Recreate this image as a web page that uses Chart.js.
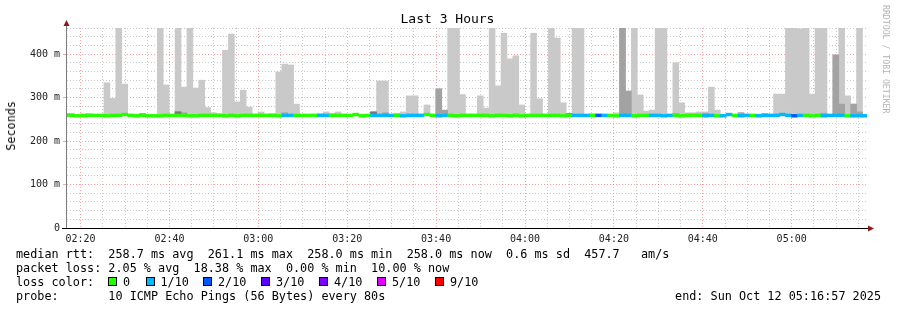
<!DOCTYPE html>
<html>
<head>
<meta charset="utf-8">
<script src="https://cdn.jsdelivr.net/npm/chart.js@4.4.0/dist/chart.umd.min.js"></script>
<style>
  body { margin: 0; background: #fff; }
  #wrap { position: relative; width: 897px; height: 310px; overflow: hidden;
          font-family: 'DejaVu Sans Mono', monospace; color: #000; }
  #chart { position: absolute; left: 0; top: 0; }
  .t { position: absolute; white-space: pre; font-size: 11.8px; line-height: 14px; }
  .box { position: absolute; top: 277px; width: 7px; height: 7px; border: 1px solid #000; }
  #title { position: absolute; left: 0; width: 895px; top: 12px; text-align: center;
           font-size: 13px; line-height: 13px; white-space: pre; }
  #ylab { position: absolute; left: 4px; top: 101px; font-size: 11.8px; line-height: 14px;
          writing-mode: vertical-rl; transform: rotate(180deg); }
  #brand { position: absolute; left: 881px; top: 5px; font-size: 8.2px; line-height: 9px;
           writing-mode: vertical-rl; color: #b4b4b4; }
</style>
</head>
<body>
<div id="wrap">
  <canvas id="chart" width="897" height="310"></canvas>
  <div id="title">Last 3 Hours</div>
  <div id="ylab">Seconds</div>
  <div id="brand">RRDTOOL / TOBI OETIKER</div>
  <div id="legend"></div>
</div>
<script>
// ============================================================
// DATA  (rtt in ms, one entry per 80 s bin, first bin starts 02:15:56)
// ============================================================
const startTime = '02:16:57';
const endTime   = '05:16:57';
const firstBinStart = '02:15:56';
const step = 80;

// outer smoke (max ping) per bin, values above 460 are cut off
const smokeTop = [
  264,264,261,263,263,261,261,334,298,475,
  331,262,261,263,261,261,475,329,261,475,
  324,475,322,340,277,265,263,409,446,290,
  317,278,262,267,262,263,359,377,375,285,
  261,261,262,262,267,264,267,262,261,261,
  262,261,267,338,338,261,264,267,304,304,
  262,283,262,320,271,475,475,307,262,262,
  304,276,475,327,448,389,396,283,261,448,
  297,262,475,437,288,262,475,475,261,262,
  262,261,261,265,475,315,475,306,269,271,
  475,475,262,380,288,265,265,267,267,324,
  271,262,261,261,265,262,261,262,262,262,
  308,308,475,475,458,475,308,475,475,261,
  398,475,304,285,475,262
];

// second smoke layer (bins where it shows)
const midBins = [13, 19, 20, 37, 43, 52, 54, 63, 64, 76, 85, 89, 94, 95, 103, 106, 108, 114, 118, 128, 130, 131, 133, 134];
const midTops = [263,268,265,265,262,267,265,320,271,262,263,262,475,315,263,262,264,265,263,264,398,285,285,267];

// inner smoke layer
const darkBins = [19, 52, 85];
const darkTops = [267, 267, 263];

// median rtt per bin
const medianRtt = [
  259,259,258,258,259,259,259,258,259,259,
  261,259,258,259,258,258,258,259,259,259,
  259,258,258,259,259,259,259,258,259,258,
  259,259,259,259,259,259,258,259,259,259,
  259,259,259,259,259,259,259,259,259,261,
  258,259,259,259,259,259,259,258,259,259,
  259,261,259,258,259,259,258,259,259,259,
  259,259,258,259,259,258,259,258,259,259,
  259,259,259,259,258,259,259,259,259,259,
  259,259,259,258,259,259,258,259,259,259,
  259,258,259,259,258,259,259,259,258,259,
  258,258,261,259,258,259,259,258,259,259,
  259,261,259,258,259,259,258,259,258,259,
  259,259,258,258,258,258
];

// lost pings (out of 10) per bin
const lostPings = [
  0,0,0,0,0,0,0,0,0,0,
  0,0,0,0,0,0,0,0,0,0,
  0,0,0,0,0,0,0,0,0,0,
  0,0,0,0,0,0,0,1,1,0,
  0,0,0,1,1,0,0,0,0,0,
  0,0,1,1,1,1,0,1,1,1,
  1,0,0,1,1,0,0,0,0,0,
  0,0,0,0,0,0,0,0,0,0,
  0,0,0,0,0,0,1,1,1,0,
  2,1,0,0,1,1,0,0,0,1,
  1,1,1,0,0,0,0,0,1,1,
  0,1,1,0,1,1,0,1,1,1,
  1,1,1,2,1,0,0,0,1,1,
  1,1,0,1,1,1
];

const lossLevels = [0, 1, 2, 3, 4, 5, 9];
const lossLabels = ['0', '1/10', '2/10', '3/10', '4/10', '5/10', '9/10'];
const lossColors = ['#26ff00', '#00b8ff', '#0059ff', '#5e00ff', '#7e00ff', '#dd00ff', '#ff0000'];

const timeLabels  = ['02:20', '02:40', '03:00', '03:20', '03:40', '04:00', '04:20', '04:40', '05:00'];
const yTickLabels = ['0', '100 m', '200 m', '300 m', '400 m'];

const statLines = [
  'median rtt:  258.7 ms avg  261.1 ms max  258.0 ms min  258.0 ms now  0.6 ms sd  457.7   am/s',
  'packet loss: 2.05 % avg  18.38 % max  0.00 % min  10.00 % now',
];
const probeLine = 'probe:       10 ICMP Echo Pings (56 Bytes) every 80s';
const endLine   = 'end: Sun Oct 12 05:16:57 2025';

// ============================================================
// HELPERS
// ============================================================
const MAJOR = 'rgba(255,90,90,0.55)';
const MINOR = 'rgba(170,170,170,0.65)';
const LINE_HALF = 3.2;           // median line half thickness, ms (~1.5px)
const tickFont = { family: 'DejaVu Sans Mono', size: 10 };

function toSec(s) {
  const [h, m, x] = s.split(':').map(Number);
  return h * 3600 + m * 60 + (x || 0);
}
function fmt(v) {
  const h = Math.floor(v / 3600), m = Math.floor((v % 3600) / 60);
  return String(h).padStart(2, '0') + ':' + String(m).padStart(2, '0');
}
function lossColor(n) {
  let c = lossColors[0];
  lossLevels.forEach((lv, i) => { if (n >= lv) c = lossColors[i]; });
  return c;
}

const xMin = toSec(startTime), xMax = toSec(endTime);
const binX = medianRtt.map((_, i) => toSec(firstBinStart) + step / 2 + i * step);
const majorTimes = timeLabels.map(toSec);
const gridTimes = [];
for (let t = majorTimes[0] - 300 * Math.floor((majorTimes[0] - xMin) / 300); t <= xMax; t += 300) gridTimes.push(t);

const barCommon = { grouped: false, barPercentage: 1, categoryPercentage: 1, borderWidth: 0, clip: 0 };

// ============================================================
// CHART
// ============================================================
const smokeSet = Object.assign({
  label: 'smoke', order: 4, backgroundColor: '#c9c9c9',
  data: smokeTop.map((v, i) => ({ x: binX[i], y: [medianRtt[i], v] }))
}, barCommon);

const midSet = Object.assign({
  label: 'smoke2', order: 3, backgroundColor: '#a2a2a2',
  data: midBins.map((b, j) => ({ x: binX[b], y: [medianRtt[b], midTops[j]] }))
}, barCommon);

const darkSet = Object.assign({
  label: 'smoke3', order: 2, backgroundColor: '#767676',
  data: darkBins.map((b, j) => ({ x: binX[b], y: [medianRtt[b], darkTops[j]] }))
}, barCommon);

const medianSet = Object.assign({
  label: 'median', order: 1,
  backgroundColor: lostPings.map(lossColor),
  data: medianRtt.map((m, i) => ({ x: binX[i], y: [m - LINE_HALF, m + LINE_HALF] }))
}, barCommon);

const axisPlugin = {
  id: 'rrdAxes',
  afterDraw(chart) {
    const { ctx, chartArea: a } = chart;
    ctx.save();
    ctx.lineWidth = 1;
    ctx.strokeStyle = '#7a7a7a';
    ctx.beginPath(); ctx.moveTo(a.left - 0.5, a.top - 3); ctx.lineTo(a.left - 0.5, a.bottom); ctx.stroke();
    ctx.strokeStyle = '#000';
    ctx.beginPath(); ctx.moveTo(a.left - 5, a.bottom + 0.5); ctx.lineTo(a.right + 2, a.bottom + 0.5); ctx.stroke();
    ctx.fillStyle = '#8a1a1a';
    ctx.beginPath(); ctx.moveTo(a.left - 3.5, a.top - 2); ctx.lineTo(a.left + 2.5, a.top - 2); ctx.lineTo(a.left - 0.5, a.top - 8); ctx.closePath(); ctx.fill();
    ctx.beginPath(); ctx.moveTo(a.right + 1, a.bottom - 2.5); ctx.lineTo(a.right + 1, a.bottom + 3.5); ctx.lineTo(a.right + 7, a.bottom + 0.5); ctx.closePath(); ctx.fill();
    ctx.restore();
  }
};

new Chart(document.getElementById('chart'), {
  type: 'bar',
  data: { datasets: [medianSet, darkSet, midSet, smokeSet] },
  plugins: [axisPlugin],
  options: {
    animation: false, responsive: false, devicePixelRatio: 1, events: [],
    layout: { padding: { left: 0, top: 28, right: 30, bottom: 62 } },
    plugins: { legend: { display: false }, tooltip: { enabled: false } },
    scales: {
      x: {
        type: 'linear', min: xMin, max: xMax, offset: false,
        afterFit: s => { s.height = 20; },
        afterBuildTicks: s => { s.ticks = gridTimes.map(v => ({ value: v })); },
        grid: { offset: false, drawTicks: false,
                color: c => (c.tick && majorTimes.includes(c.tick.value)) ? MAJOR : MINOR },
        border: { display: false, dash: [1, 2] },
        ticks: { autoSkip: false, maxRotation: 0, padding: 5, font: tickFont, color: '#222',
                 callback: v => majorTimes.includes(v) ? fmt(v) : '' }
      },
      y: {
        min: 0, max: 460,
        afterFit: s => { s.width = 67; },
        grid: { drawTicks: true, tickLength: 4,
                color: c => (c.tick && c.tick.value % 100 === 0) ? MAJOR : MINOR,
                tickColor: c => (c.tick && c.tick.value % 100 === 0) ? MAJOR : 'rgba(0,0,0,0)' },
        border: { display: false, dash: [1, 2] },
        ticks: { stepSize: 20, autoSkip: false, padding: 3, font: tickFont, color: '#222',
                 callback: v => v % 100 === 0 ? yTickLabels[v / 100] : '' }
      }
    }
  }
});

// ============================================================
// LEGEND TEXT
// ============================================================
const legend = document.getElementById('legend');
function addText(txt, left, top, extra) {
  const el = document.createElement('div');
  el.className = 't';
  el.textContent = txt;
  el.style.left = left + 'px';
  el.style.top = top + 'px';
  if (extra) Object.assign(el.style, extra);
  legend.appendChild(el);
}
statLines.forEach((s, i) => addText(s, 16, 247 + i * 14));
addText('loss color:', 16, 275);
const boxX = [108, 145.5, 203, 261, 319, 377, 435];
lossLabels.forEach((lab, i) => {
  const b = document.createElement('div');
  b.className = 'box';
  b.style.left = boxX[i] + 'px';
  b.style.background = lossColors[i];
  legend.appendChild(b);
  addText(lab, boxX[i] + 15, 275);
});
addText(probeLine, 16, 289);
addText(endLine, 0, 289, { left: 'auto', right: '16px' });
</script>
</body>
</html>
